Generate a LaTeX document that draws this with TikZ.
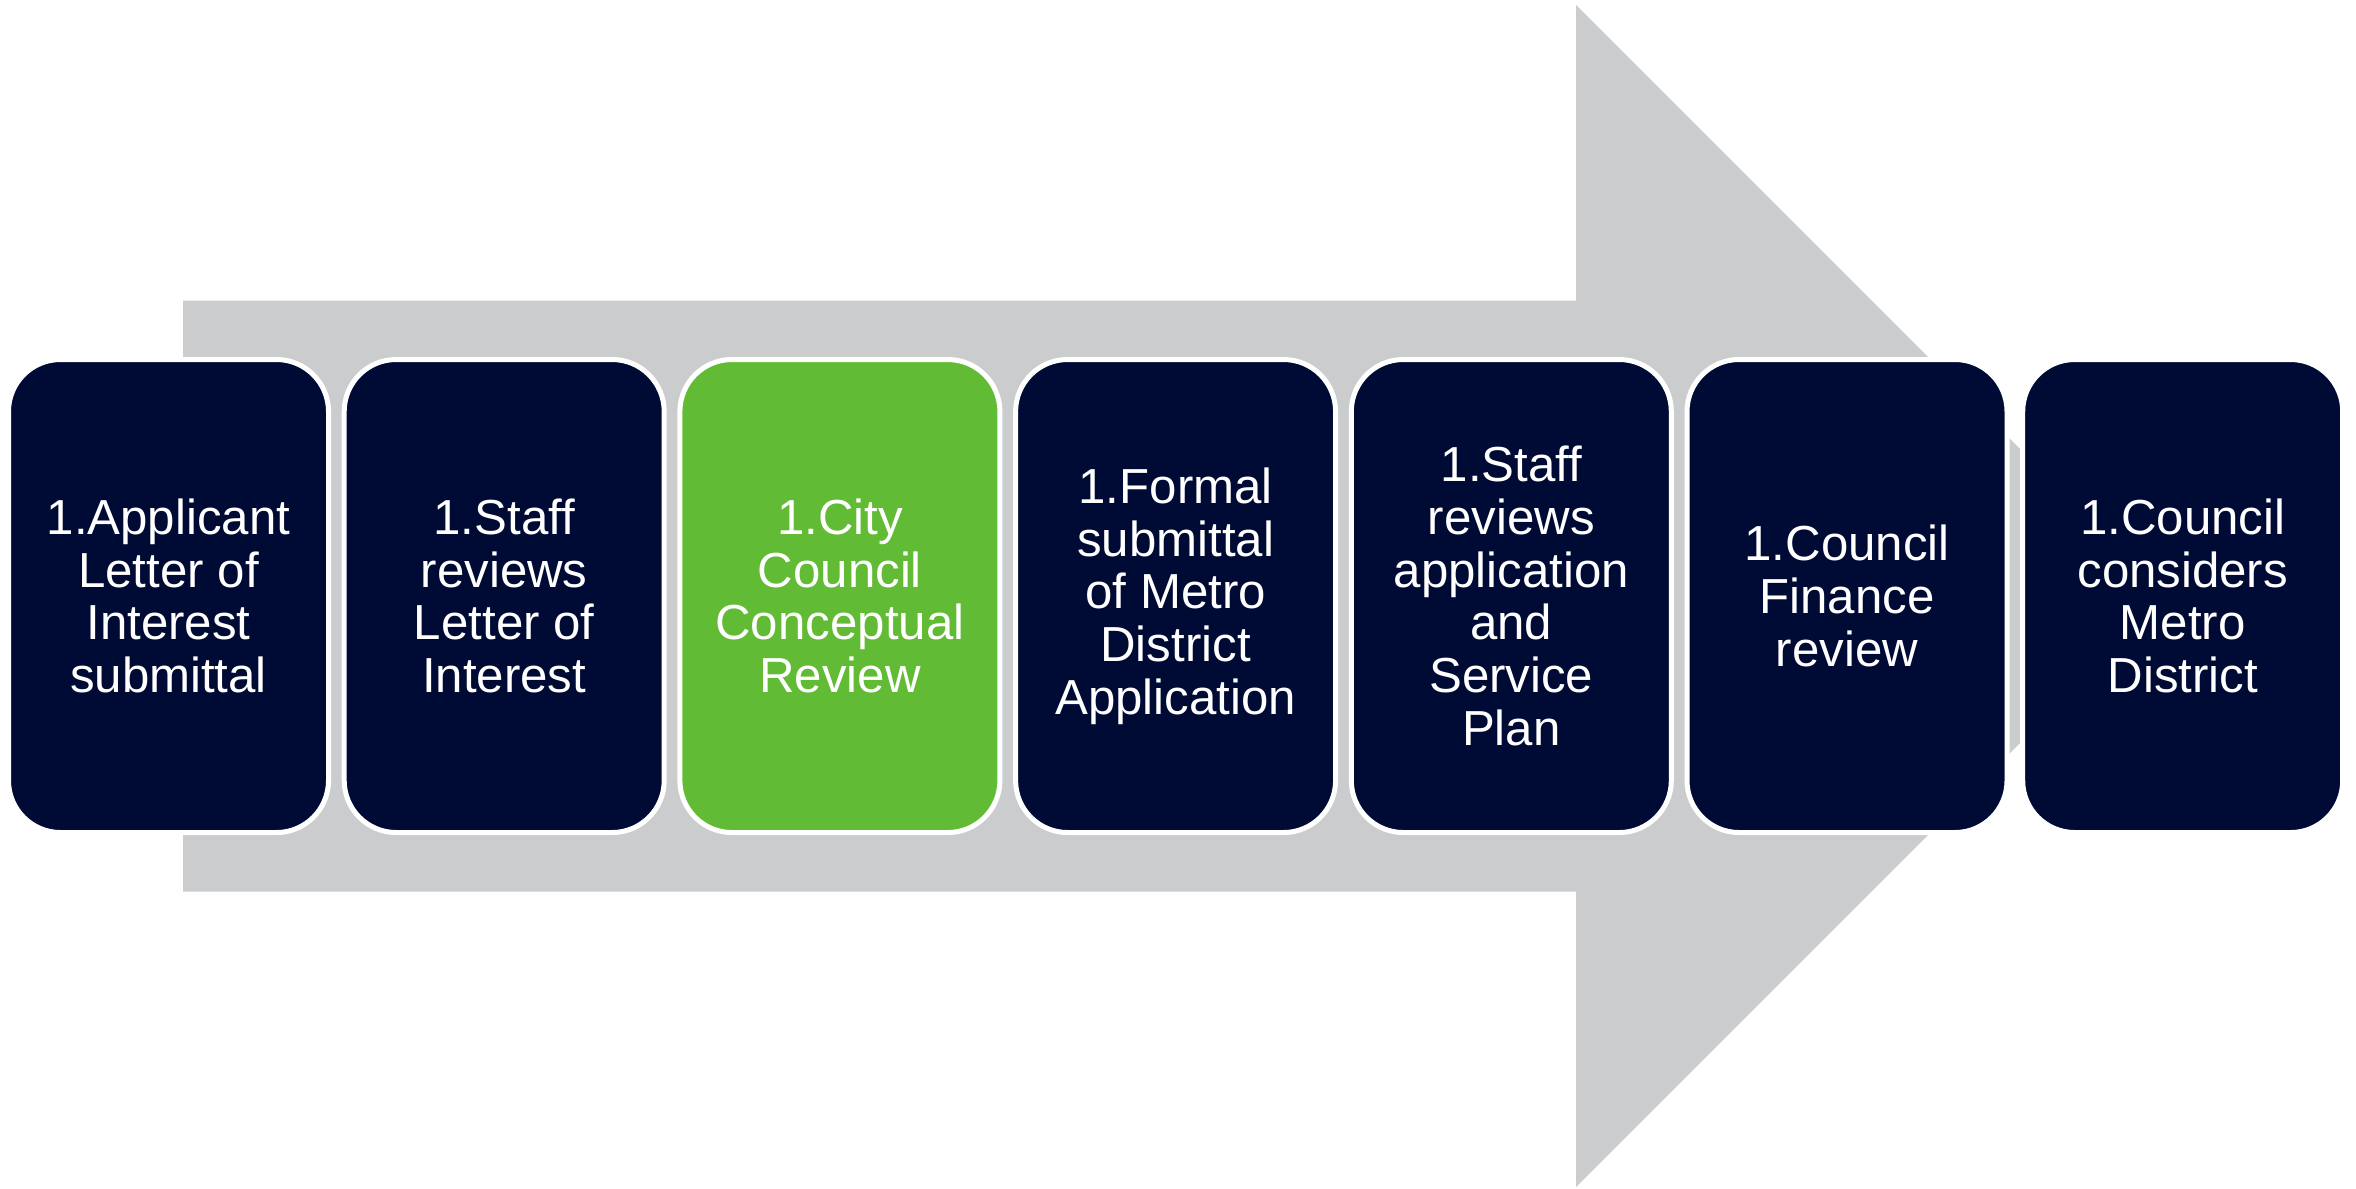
\documentclass[tikz,border=0pt]{standalone}
\usepackage{fontspec}
\setmainfont{Liberation Sans}
\definecolor{darknavy}{HTML}{000B35}
\definecolor{stepgreen}{HTML}{62BB35}
\definecolor{arrowgray}{HTML}{CBCCCE}
\tikzset{stepbox/.style={draw=white,line width=0.05cm,rounded corners=0.52cm,
		minimum width=3.2cm,minimum height=4.73cm,align=center,text=white,
		font=\fontsize{14}{15}\selectfont,inner sep=0pt}}

\begin{document}
\begin{tikzpicture}
		\useasboundingbox (0,0) rectangle (23.56,-11.88);
		% big arrow
		\fill[arrowgray] (1.83,-3.005)--(15.76,-3.005)--(15.76,-0.05)--(21.67,-5.96)
			--(15.76,-11.87)--(15.76,-8.915)--(1.83,-8.915)--cycle;
		% steps
		\foreach \n/\col/\txt in {1/darknavy/{1.Applicant\\Letter of\\Interest\\submittal},
			2/darknavy/{1.Staff\\reviews\\Letter of\\Interest},
			3/stepgreen/{1.City\\Council\\Conceptual\\Review},
			4/darknavy/{1.Formal\\submittal\\of Metro\\District\\Application},
			5/darknavy/{1.Staff\\reviews\\application\\and\\Service\\Plan},
			6/darknavy/{1.Council\\Finance\\review},
			7/darknavy/{1.Council\\considers\\Metro\\District}}
		{\node[stepbox,fill=\col] (s\n) at ({1.685+3.357*(\n-1)},-5.96) {\txt};}
	\end{tikzpicture}
\end{document}
